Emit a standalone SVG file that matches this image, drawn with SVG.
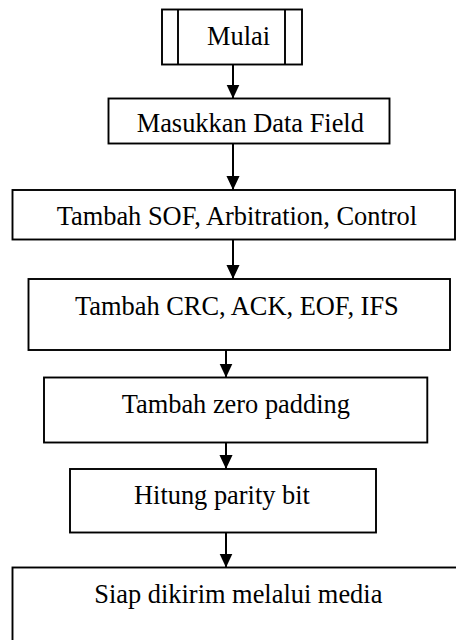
<svg xmlns="http://www.w3.org/2000/svg" width="456" height="640" viewBox="0 0 456 640">
  <defs>
    <marker id="arrow" markerUnits="userSpaceOnUse" markerWidth="14" markerHeight="15" viewBox="0 0 15 14" refX="15" refY="7" orient="auto">
      <path d="M0,0 L15,7 L0,14 z" fill="#000"/>
    </marker>
    <style>
      .box { fill: #fff; stroke: #000; stroke-width: 1.9; }
      .bar { stroke: #000; stroke-width: 1.9; }
      .lbl { font-family: "Liberation Serif", "Times New Roman", serif; font-size: 26.4px; fill: #000; }
      .flow { stroke: #000; stroke-width: 2; fill: none; marker-end: url(#arrow); }
    </style>
  </defs>
  <rect width="456" height="640" fill="#fff"/>

  <!-- connectors between the steps, top to bottom -->
  <g id="connectors">
    <line class="flow" x1="233" y1="64.5" x2="233" y2="98.5"/>
    <line class="flow" x1="233" y1="143.5" x2="233" y2="190"/>
    <line class="flow" x1="233" y1="239.5" x2="233" y2="279"/>
    <line class="flow" x1="226" y1="350" x2="226" y2="377.5"/>
    <line class="flow" x1="226" y1="442.5" x2="226" y2="469"/>
    <line class="flow" x1="226" y1="532.5" x2="226" y2="567.5"/>
  </g>

  <!-- start: predefined-process style box -->
  <g id="mulai">
    <rect class="box" x="162" y="9.5" width="140" height="55"/>
    <line class="bar" x1="178" y1="9.5" x2="178" y2="64.5"/>
    <line class="bar" x1="285" y1="9.5" x2="285" y2="64.5"/>
    <text class="lbl" x="207" y="45">Mulai</text>
  </g>

  <g id="masukkan">
    <rect class="box" x="108.5" y="98.5" width="281" height="45"/>
    <text class="lbl" x="136.7" y="132">Masukkan Data Field</text>
  </g>

  <g id="tambah-sof">
    <rect class="box" x="12.5" y="190" width="442.5" height="49.5"/>
    <text class="lbl" x="56.7" y="225">Tambah SOF, Arbitration, Control</text>
  </g>

  <g id="tambah-crc">
    <rect class="box" x="28.5" y="279" width="421.5" height="71"/>
    <text class="lbl" x="75" y="315">Tambah CRC, ACK, EOF, IFS</text>
  </g>

  <g id="zero-padding">
    <rect class="box" x="44" y="377.5" width="383.3" height="65"/>
    <text class="lbl" x="121.7" y="413">Tambah zero padding</text>
  </g>

  <g id="parity">
    <rect class="box" x="70" y="469" width="306" height="63.5"/>
    <text class="lbl" x="134" y="504">Hitung parity bit</text>
  </g>

  <!-- final step runs past the right and bottom edges -->
  <g id="siap">
    <rect class="box" x="12.5" y="567.5" width="470" height="100"/>
    <text class="lbl" x="94.3" y="602.5">Siap dikirim melalui media</text>
  </g>
</svg>
